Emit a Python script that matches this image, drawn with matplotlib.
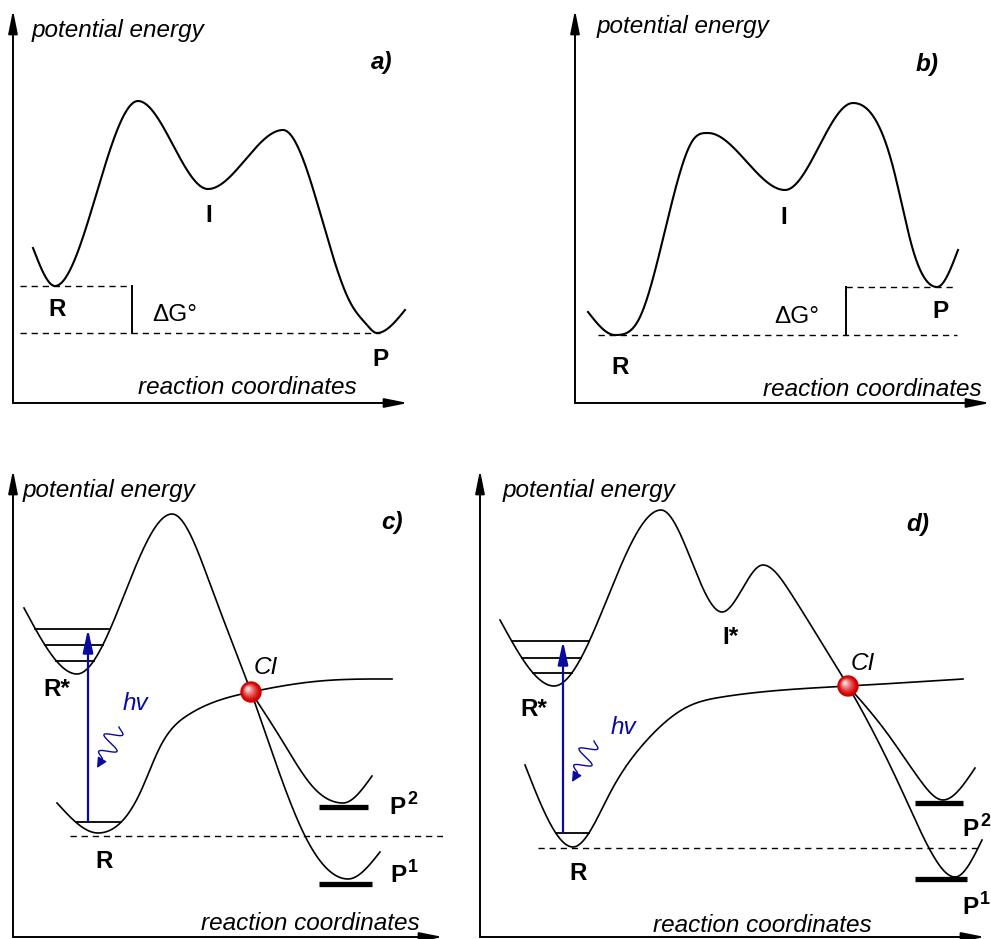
import numpy as np
import matplotlib
matplotlib.use("Agg")
from matplotlib import pyplot as plt
from matplotlib.patches import Circle

plt.rcParams['font.family'] = ['Liberation Sans', 'DejaVu Sans']

# panel frames: origin (px from left, px from top), axis lengths in px
frames = {'a': (13, 403, 395, 393), 'b': (575, 403, 415, 393),
          'c': (13, 937, 430, 467), 'd': (480, 937, 505, 467)}

# ---- panel a / b: (reaction coordinate, energy) knots of the profile
a_x = [20, 42, 125, 195, 270, 315, 337, 354, 364, 392]
a_y = [155, 117, 302, 214, 273, 163, 101, 78, 70, 93]
a_levels = [117, 70]   # R, P

b_x = [13, 40, 65, 102, 118, 133, 210, 278, 318, 338, 362, 383]
b_y = [91, 68, 86, 220, 263, 270, 213, 300, 236, 153, 116, 153]
b_levels = [68, 116]   # R, P

# ---- panel c
c_exc_x = [11, 64, 159, 200, 238, 292, 335, 367]
c_exc_y = [329, 263, 423, 345, 245, 101, 58, 85]
c_gnd_x = [44, 85, 127, 147, 175, 238, 307, 379]
c_gnd_y = [134, 104, 144, 190, 222, 245, 256, 258]
c_p2_x = [238, 270, 300, 330, 359]
c_p2_y = [245, 195, 150, 134, 161]
c_star_levels = [308, 292, 276]
c_ground_level = 115
c_ref = 101
c_bars = {'P2': (306, 355, 130), 'P1': (306, 359, 53)}

# ---- panel d
d_exc_x = [20, 74, 181, 242, 283, 310, 340, 368, 423, 450, 475, 502]
d_exc_y = [317, 251, 427, 325, 372, 345, 297, 251, 144, 87, 60, 97]
d_gnd_x = [45, 93, 130, 167, 207, 242, 368, 483]
d_gnd_y = [172, 90, 144, 197, 230, 240, 251, 258]
d_p2_x = [368, 407, 440, 463, 495]
d_p2_y = [251, 204, 157, 137, 169]
d_star_levels = [296, 279, 264]
d_ground_level = 104
d_ref = 89
d_bars = {'P2': (435, 483, 134), 'P1': (435, 487, 58)}

BLUE = '#0a0aa0'
FS = 17.5


def spline_piece(x, y, s0, sn, num):
    # cubic spline on one monotone stretch; s0/sn = end slope, None = natural end
    n = len(x) - 1
    h = np.diff(x)
    d = np.diff(y) / h
    A = np.zeros((n + 1, n + 1))
    r = np.zeros(n + 1)
    for i in range(1, n):
        A[i, i - 1], A[i, i], A[i, i + 1] = h[i - 1], 2 * (h[i - 1] + h[i]), h[i]
        r[i] = 6 * (d[i] - d[i - 1])
    if s0 is None:
        A[0, 0] = 1
    else:
        A[0, 0], A[0, 1] = 2 * h[0], h[0]
        r[0] = 6 * (d[0] - s0)
    if sn is None:
        A[n, n] = 1
    else:
        A[n, n - 1], A[n, n] = h[-1], 2 * h[-1]
        r[n] = 6 * (sn - d[-1])
    M = np.linalg.solve(A, r)
    xs = np.linspace(x[0], x[-1], num)
    i = np.clip(np.searchsorted(x, xs) - 1, 0, n - 1)
    a = x[i + 1] - xs
    b = xs - x[i]
    ys = (M[i] * a**3 / (6 * h[i]) + M[i + 1] * b**3 / (6 * h[i])
          + (y[i] / h[i] - M[i] * h[i] / 6) * a + (y[i + 1] / h[i] - M[i + 1] * h[i] / 6) * b)
    return xs, ys


def smooth_curve(xk, yk):
    # split at the extrema (flat there), smooth spline in between
    xk = np.asarray(xk, float)
    yk = np.asarray(yk, float)
    d = np.diff(yk)
    ext = [i for i in range(1, len(xk) - 1) if d[i - 1] * d[i] < 0]
    cuts = [0] + ext + [len(xk) - 1]
    xs, ys = [], []
    for j in range(len(cuts) - 1):
        lo, hi = cuts[j], cuts[j + 1]
        s0 = 0.0 if lo in ext else None
        sn = 0.0 if hi in ext else None
        px, py = spline_piece(xk[lo:hi + 1], yk[lo:hi + 1], s0, sn, 200)
        last = j == len(cuts) - 2
        xs.append(px if last else px[:-1])
        ys.append(py if last else py[:-1])
    return np.concatenate(xs), np.concatenate(ys)


def well_span(x, y, level):
    # crossings of a horizontal level with the first well of a curve
    half = len(y) // 2
    imin = np.argmin(y[:half])
    imax = imin + np.argmax(y[imin: imin + half])
    left = np.interp(level, y[:imin + 1][::-1], x[:imin + 1][::-1])
    right = np.interp(level, y[imin:imax + 1], x[imin:imax + 1])
    return left, right


def make_axes(fig, key):
    ox, oy, w, h = frames[key]
    ax = fig.add_axes([ox / 991, (939 - oy) / 939, w / 991, h / 939])
    ax.set_xlim(0, w)
    ax.set_ylim(0, h)
    ax.axis('off')
    arrow = dict(arrowstyle='-|>,head_length=1.0,head_width=0.2', mutation_scale=14,
                 lw=1.4, color='black', shrinkA=0, shrinkB=0)
    ax.annotate('', xy=(w, 0), xytext=(0, 0), arrowprops=arrow, annotation_clip=False)
    ax.annotate('', xy=(0, h), xytext=(0, 0), arrowprops=arrow, annotation_clip=False)
    return ax, w, h


def dashed(ax, x0, x1, y):
    ax.plot([x0, x1], [y, y], color='black', lw=1.0, dashes=(4.5, 3.5))


def ci_sphere(ax, x, y, r=10):
    ax.add_patch(Circle((x, y), r, color='#d00000', zorder=5))
    for k in range(14):
        f = k / 14
        col = (0.82 + 0.18 * f, 0.95 * f**1.3, 0.95 * f**1.3)
        ax.add_patch(Circle((x - 3.5 * f, y + 3.5 * f), r * (1 - 0.92 * f) * 0.95,
                            color=col, lw=0, zorder=5 + k * 0.01))


def photon(ax, p0, p1):
    p0 = np.array(p0, float)
    p1 = np.array(p1, float)
    t = np.linspace(0, 1, 200)
    v = p1 - p0
    n = np.array([-v[1], v[0]]) / np.hypot(*v)
    amp = 10 * np.sin(np.pi * np.clip(t * 1.15, 0, 1)) ** 0.4
    pts = p0[None, :] + t[:, None] * v[None, :] + (amp * np.sin(2 * np.pi * 2.25 * t))[:, None] * n[None, :]
    ax.plot(pts[:, 0], pts[:, 1], color=BLUE, lw=1.0)
    ax.annotate('', xy=pts[-1] + np.array([-3, -5]), xytext=pts[-3],
                arrowprops=dict(arrowstyle='-|>,head_length=0.6,head_width=0.3', mutation_scale=10,
                                color=BLUE, lw=1.0, shrinkA=0, shrinkB=0))


def p_label(ax, x, y, sup):
    ax.text(x, y, 'P', fontsize=FS, fontweight='bold', ha='center', va='center')
    ax.text(x + 15, y + 7, sup, fontsize=13, fontweight='bold', ha='center', va='center')


fig = plt.figure(figsize=(9.91, 9.39), dpi=100)

# ---------------- panel a
ax, w, h = make_axes(fig, 'a')
x, y = smooth_curve(a_x, a_y)
ax.plot(x, y, color='black', lw=1.5)
dashed(ax, 7, 119, a_levels[0])
dashed(ax, 7, 367, a_levels[1])
ax.plot([119, 119], a_levels, color='black', lw=1.4)
ax.text(19, 373, 'potential energy', fontsize=FS, style='italic', ha='left', va='center')
ax.text(369, 340, 'a)', fontsize=FS, style='italic', fontweight='bold', ha='center', va='center')
ax.text(234, 15, 'reaction coordinates', fontsize=FS, style='italic', ha='center', va='center')
ax.text(44, 93, 'R', fontsize=FS, fontweight='bold', ha='center', va='center')
ax.text(196, 188, 'I', fontsize=FS, fontweight='bold', ha='center', va='center')
ax.text(367, 43, 'P', fontsize=FS, fontweight='bold', ha='center', va='center')
ax.text(162, 88, '\u0394G\u00b0', fontsize=FS, ha='center', va='center')

# ---------------- panel b
ax, w, h = make_axes(fig, 'b')
x, y = smooth_curve(b_x, b_y)
ax.plot(x, y, color='black', lw=1.5)
dashed(ax, 23, 382, b_levels[0])
dashed(ax, 271, 382, b_levels[1])
ax.plot([271, 271], b_levels, color='black', lw=1.4)
ax.text(22, 376, 'potential energy', fontsize=FS, style='italic', ha='left', va='center')
ax.text(352, 338, 'b)', fontsize=FS, style='italic', fontweight='bold', ha='center', va='center')
ax.text(297, 13, 'reaction coordinates', fontsize=FS, style='italic', ha='center', va='center')
ax.text(45, 36, 'R', fontsize=FS, fontweight='bold', ha='center', va='center')
ax.text(209, 186, 'I', fontsize=FS, fontweight='bold', ha='center', va='center')
ax.text(365, 91, 'P', fontsize=FS, fontweight='bold', ha='center', va='center')
ax.text(222, 86, '\u0394G\u00b0', fontsize=FS, ha='center', va='center')


def photo_panel(key, exc, gnd, p2, star_levels, ground_level, ref, bars, arrow_x, ci, labels):
    ax, w, h = make_axes(fig, key)
    for cx, cy in (exc, gnd, p2):
        sx, sy = smooth_curve(cx, cy)
        ax.plot(sx, sy, color='black', lw=1.2)
    ex, ey = smooth_curve(*exc)
    gx, gy = smooth_curve(*gnd)
    for lv in star_levels:
        l, r = well_span(ex, ey, lv)
        ax.plot([l, r], [lv, lv], color='black', lw=1.3)
    l, r = well_span(gx, gy, ground_level)
    ax.plot([l, r], [ground_level, ground_level], color='black', lw=1.3)
    dashed(ax, ref[0], ref[1], ref[2])
    for x0, x1, yb in bars.values():
        ax.plot([x0, x1], [yb, yb], color='black', lw=3.8, solid_capstyle='butt')
    ax.annotate('', xy=(arrow_x, max(star_levels)), xytext=(arrow_x, ground_level),
                arrowprops=dict(arrowstyle='-|>,head_length=1.0,head_width=0.22', mutation_scale=14,
                                color=BLUE, lw=1.6, shrinkA=0, shrinkB=0))
    ci_sphere(ax, *ci)
    for txt, (tx, ty, kw) in labels.items():
        ax.text(tx, ty, txt, fontsize=FS, ha='center', va='center', **kw)
    return ax


ax = photo_panel('c', (c_exc_x, c_exc_y), (c_gnd_x, c_gnd_y), (c_p2_x, c_p2_y),
                 c_star_levels, c_ground_level, (57, 430, c_ref), c_bars, 75, (238, 245),
                 {'R*': (44, 247, dict(fontweight='bold')),
                  'R': (91, 75, dict(fontweight='bold')),
                  'CI': (253, 270, dict(style='italic')),
                  'hv': (122, 234, dict(style='italic', color=BLUE)),
                  'c)': (379, 415, dict(style='italic', fontweight='bold'))})
ax.text(10, 447, 'potential energy', fontsize=FS, style='italic', ha='left', va='center')
ax.text(297, 14, 'reaction coordinates', fontsize=FS, style='italic', ha='center', va='center')
p_label(ax, 384, 130, '2')
p_label(ax, 385, 62, '1')
photon(ax, (106, 210), (87, 174))

ax = photo_panel('d', (d_exc_x, d_exc_y), (d_gnd_x, d_gnd_y), (d_p2_x, d_p2_y),
                 d_star_levels, d_ground_level, (58, 497, d_ref), d_bars, 83, (368, 251),
                 {'R*': (54, 227, dict(fontweight='bold')),
                  'R': (98, 63, dict(fontweight='bold')),
                  'I*': (250, 300, dict(fontweight='bold')),
                  'CI': (383, 274, dict(style='italic')),
                  'hv': (143, 209, dict(style='italic', color=BLUE)),
                  'd)': (438, 412, dict(style='italic', fontweight='bold'))})
ax.text(23, 447, 'potential energy', fontsize=FS, style='italic', ha='left', va='center')
ax.text(282, 12, 'reaction coordinates', fontsize=FS, style='italic', ha='center', va='center')
p_label(ax, 490, 108, '2')
p_label(ax, 490, 30, '1')
photon(ax, (114, 196), (95, 160))

fig.savefig('out.png', dpi=100)
